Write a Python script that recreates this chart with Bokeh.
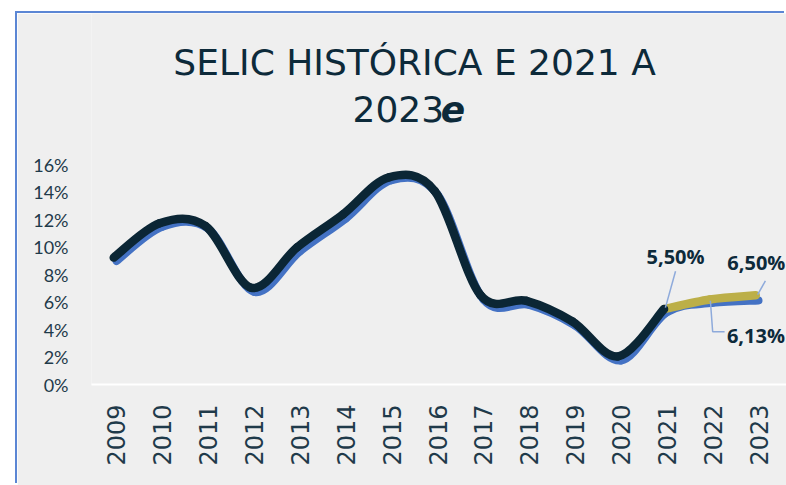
import numpy as np
from bokeh.plotting import figure
from bokeh.models import Range1d, FixedTicker, Label, ColumnDataSource
from bokeh.transform import dodge
from bokeh.embed import file_html
from bokeh.resources import INLINE

# ---------------- data ----------------
years_hist = [2009, 2010, 2011, 2012, 2013, 2014, 2015, 2016, 2017, 2018, 2019, 2020, 2021]
selic_hist = [9.25, 11.75, 11.55, 7.05, 10.0, 12.4, 15.1, 14.1, 6.5, 6.1, 4.6, 2.05, 5.5]

years_proj = [2009, 2010, 2011, 2012, 2013, 2014, 2015, 2016, 2017, 2018, 2019, 2020, 2021, 2022, 2023]
selic_proj = [9.0, 11.5, 11.35, 6.75, 9.7, 12.1, 14.9, 13.85, 6.2, 5.8, 4.3, 1.75, 5.25, 5.95, 6.13]

years_fc = [2021, 2022, 2023]
selic_fc = [5.5, 6.2, 6.5]

y_ticks = [0, 2, 4, 6, 8, 10, 12, 14, 16]
y_tick_labels = ["0%", "2%", "4%", "6%", "8%", "10%", "12%", "14%", "16%"]
x_ticks = years_proj
x_tick_labels = [str(y) for y in years_proj]

title_line1 = "SELIC HISTÓRICA E 2021 A"
title_line2 = "2023"
title_suffix = "e"

DARK = "#0b2635"
BLUE = "#4472c4"
OLIVE = "#bcaf48"
TXT = "#0d2a3a"
AX_TXT = "#1f3a4a"
LEADER = "#8eaadb"


def smooth_source(xs, ys):
    """Catmull-Rom style cubic Bezier segments (like a smoothed spreadsheet line)."""
    n = len(xs)
    d = dict(x0=[], y0=[], x1=[], y1=[], cx0=[], cy0=[], cx1=[], cy1=[])
    for i in range(n - 1):
        a = max(i - 1, 0)
        b = min(i + 2, n - 1)
        d["x0"].append(xs[i]); d["y0"].append(ys[i])
        d["x1"].append(xs[i + 1]); d["y1"].append(ys[i + 1])
        d["cx0"].append(xs[i] + (xs[i + 1] - xs[a]) / 6.0)
        d["cy0"].append(ys[i] + (ys[i + 1] - ys[a]) / 6.0)
        d["cx1"].append(xs[i + 1] - (xs[b] - xs[i]) / 6.0)
        d["cy1"].append(ys[i + 1] - (ys[b] - ys[i]) / 6.0)
    return ColumnDataSource(d)


p = figure(width=769, height=472,
           x_range=Range1d(2008.455, 2023.61), y_range=Range1d(0, 27.04),
           output_backend="svg", toolbar_location=None,
           min_border_left=74, min_border_right=0, min_border_top=0, min_border_bottom=101)
p.margin = (13, 0, 0, 17)
p.styles = {"box-shadow": "-2px -2px 0px 0px #5b86d4"}
p.background_fill_color = "#efefef"
p.border_fill_color = "#efefef"
p.outline_line_color = None
p.xgrid.visible = False
p.ygrid.visible = False

# y axis
p.yaxis.ticker = FixedTicker(ticks=y_ticks)
p.yaxis.major_label_overrides = {t: l for t, l in zip(y_ticks, y_tick_labels)}
p.yaxis.axis_line_color = None
p.yaxis.major_tick_line_color = None
p.yaxis.minor_tick_line_color = None
p.yaxis.major_tick_out = 0
p.yaxis.minor_tick_out = 0
p.yaxis.major_label_standoff = 23
p.yaxis.major_label_text_font = "Lato"
p.yaxis.major_label_text_font_size = "18px"
p.yaxis.major_label_text_color = AX_TXT

# x axis
p.xaxis.ticker = FixedTicker(ticks=x_ticks)
p.xaxis.major_label_overrides = {t: l for t, l in zip(x_ticks, x_tick_labels)}
p.xaxis.major_label_orientation = np.pi / 2
p.xaxis.axis_line_color = "white"
p.xaxis.axis_line_width = 2
p.xaxis.major_tick_line_color = None
p.xaxis.minor_tick_line_color = None
p.xaxis.major_tick_out = 0
p.xaxis.minor_tick_out = 0
p.xaxis.major_label_standoff = 20
p.xaxis.major_label_text_font = "DejaVu Sans"
p.xaxis.major_label_text_font_size = "24px"
p.xaxis.major_label_text_color = AX_TXT

# lines
src_proj = smooth_source(years_proj, selic_proj)
src_fc = smooth_source(years_fc, selic_fc)
src_hist = smooth_source(years_hist, selic_hist)

p.bezier(x0="x0", y0="y0", x1="x1", y1="y1", cx0="cx0", cy0="cy0", cx1="cx1", cy1="cy1",
         source=src_proj, line_color=BLUE, line_width=8, line_cap="round")
sh = -0.06
p.bezier(x0=dodge("x0", sh), y0="y0", x1=dodge("x1", sh), y1="y1",
         cx0=dodge("cx0", sh), cy0="cy0", cx1=dodge("cx1", sh), cy1="cy1",
         source=src_fc, line_color=OLIVE, line_width=8.5, line_cap="round")
p.bezier(x0=dodge("x0", sh), y0="y0", x1=dodge("x1", sh), y1="y1",
         cx0=dodge("cx0", sh), cy0="cy0", cx1=dodge("cx1", sh), cy1="cy1",
         source=src_hist, line_color=DARK, line_width=8.5, line_cap="round")

# leader lines
x21, v21 = years_hist[-1], selic_hist[-1]
x23, v23 = years_fc[-1], selic_fc[-1]
x22b, v22b = years_proj[-2], selic_proj[-2]
p.line([x21 + 0.19, x21 - 0.03], [v21 + 2.75, v21 + 0.1], line_color=LEADER, line_width=1.5)
p.line([x23 + 0.15, x23 - 0.02], [v23 + 1.05, v23 + 0.05], line_color=LEADER, line_width=1.5)
p.line([x22b - 0.05, x22b + 0.0, x22b + 0.26], [v22b + 0.15, v22b - 2.1, v22b - 2.1],
       line_color=LEADER, line_width=1.5)

lab_font = "Open Sans"
p.add_layout(Label(x=x21 + 0.19, y=v21 + 3.83, text="5,50%", text_align="center", text_baseline="middle",
                   text_font=lab_font, text_font_style="bold", text_font_size="20px", text_color=TXT))
p.add_layout(Label(x=x23 - 0.68, y=v23 + 2.39, text="6,50%", text_align="left", text_baseline="middle",
                   text_font=lab_font, text_font_style="bold", text_font_size="20px", text_color=TXT))
p.add_layout(Label(x=x22b + 0.31, y=v22b - 2.38, text="6,13%", text_align="left", text_baseline="middle",
                   text_font=lab_font, text_font_style="bold", text_font_size="20px", text_color=TXT))

# title
p.add_layout(Label(x=2015.5, y=23.47, text=title_line1, text_align="center", text_baseline="middle",
                   text_font="DejaVu Sans", text_font_size="36px", text_color=TXT))
p.add_layout(Label(x=2014.146, y=20.08, text=title_line2, text_align="left", text_baseline="middle",
                   text_font="DejaVu Sans", text_font_size="36px", text_color=TXT))
p.add_layout(Label(x=2016.07, y=20.08, text=title_suffix, text_align="left", text_baseline="middle",
                   text_font="DejaVu Sans", text_font_style="bold italic", text_font_size="36px",
                   text_color=TXT))

open("out.html", "w").write(file_html(p, INLINE))
